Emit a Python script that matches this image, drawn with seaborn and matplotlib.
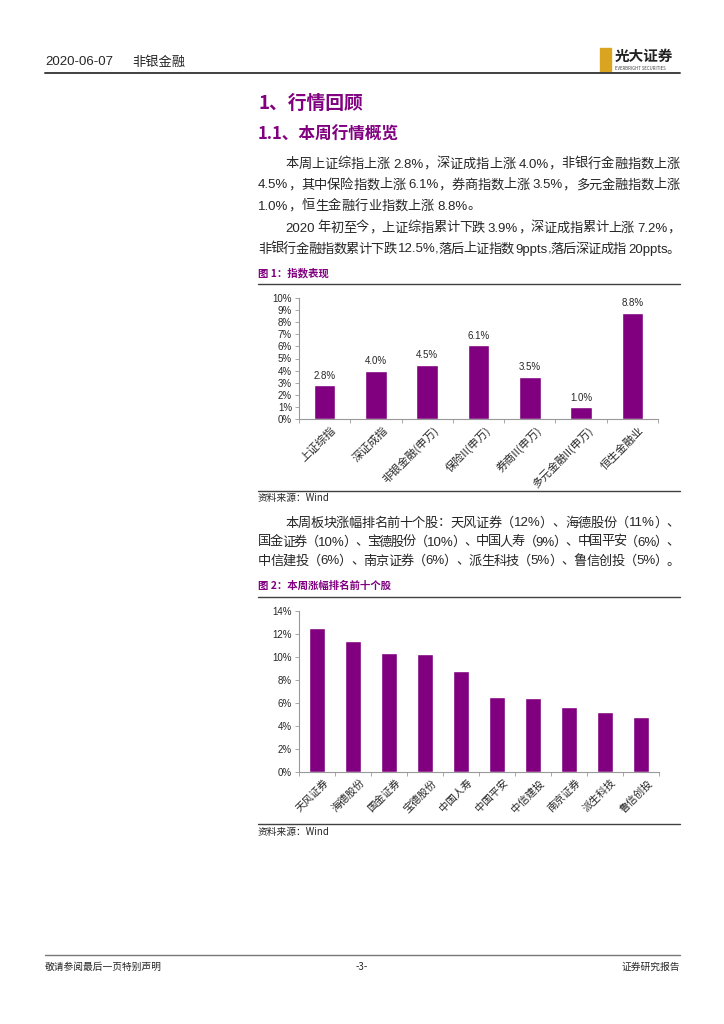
import re
import numpy as np
import pandas as pd
import matplotlib
matplotlib.use("Agg")
import matplotlib.pyplot as plt
import seaborn as sns
import matplotlib.ticker as ticker
import matplotlib.transforms as mtrans
from matplotlib.patches import Rectangle

# chart data
idx_names = ["上证综指", "深证成指", "非银金融(申万)", "保险II(申万)", "券商II(申万)", "多元金融II(申万)", "恒生金融业"]
idx_chg = [2.8, 4.0, 4.5, 6.1, 3.5, 1.0, 8.8]

stock_names = ["天风证券", "海德股份", "国金证券", "宝德股份", "中国人寿", "中国平安", "中信建投", "南京证券", "派生科技", "鲁信创投"]
stock_chg = [12.5, 11.35, 10.33, 10.3, 8.75, 6.55, 6.47, 5.63, 5.25, 4.82]

body1 = ["本周上证综指上涨 2.8%，深证成指上涨 4.0%，非银行金融指数上涨",
         "4.5%，其中保险指数上涨 6.1%，券商指数上涨 3.5%，多元金融指数上涨",
         "1.0%，恒生金融行业指数上涨 8.8%。"]
body2 = ["2020 年初至今，上证综指累计下跌 3.9%，深证成指累计上涨 7.2%，",
         "非银行金融指数累计下跌 12.5%,落后上证指数 9ppts,落后深证成指 20ppts。"]
body3 = ["本周板块涨幅排名前十个股：天风证券（12%）、海德股份（11%）、",
         "国金证券（10%）、宝德股份（10%）、中国人寿（9%）、中国平安（6%）、",
         "中信建投（6%）、南京证券（6%）、派生科技（5%）、鲁信创投（5%）。"]

PURPLE = "#800080"
W, H = 724, 1024
LATIN = ["Liberation Sans", "DejaVu Sans"]

sns.set_style("white")
plt.rcParams["font.family"] = ["Noto Sans CJK SC", "DejaVu Sans"]
plt.rcParams["axes.unicode_minus"] = False

fig = plt.figure(figsize=(W / 100, H / 100), dpi=100)
fig.patch.set_facecolor("white")
rend = fig.canvas.get_renderer()


def fx(x):
    return x / W


def fy(y):
    return 1 - y / H


def hline(y, x0, x1, lw=1.0, color="#404040"):
    fig.add_artist(plt.Line2D([fx(x0), fx(x1)], [fy(y), fy(y)], lw=lw, color=color))


def txt(x, y, s, size=9.5, **kw):
    kw.setdefault("va", "center")
    return fig.text(fx(x), fy(y), s, fontsize=size, **kw)


def jline(x0, y, s, x1=None, size=9.5):
    # draw a line token by token, spread to x1 when given (justified)
    toks = re.findall(r"[A-Za-z0-9.%]+|.", s)
    objs = []
    for t in toks:
        if re.match(r"[A-Za-z0-9.%,]", t):
            o = txt(x0, y + 4.5, t, size=size, family=LATIN, va="baseline")
        else:
            o = txt(x0, y + 4.5, t, size=size, va="baseline")
        objs.append(o)
    widths = [o.get_window_extent(rend).width if o.get_text().strip() else size * 0.35 for o in objs]
    gap = 0.0
    if x1 is not None and len(objs) > 1:
        gap = (x1 - x0 - sum(widths)) / (len(objs) - 1)
    x = x0
    for o, w in zip(objs, widths):
        o.set_x(fx(x))
        x += w + gap


def paragraph(lines, y0, step, size=9.5, last_full=True):
    for i, s in enumerate(lines):
        x0 = 285 if i == 0 else 258
        full = i < len(lines) - 1 or last_full
        jline(x0, y0 + step * i, s, 680 if full else None, size=size)


# header
txt(45, 62, "2020-06-07", size=9.5, family=LATIN)
txt(132, 62, "非银金融", size=9.5)
hline(73, 45, 680, lw=1.4)
fig.add_artist(Rectangle((fx(600), fy(71)), fx(11), 23 / H, color="#d9a520", transform=fig.transFigure))
txt(615, 56, "光大证券", size=10.5, weight="bold", color="#222222")
txt(615, 68, "EVERBRIGHT SECURITIES", size=3.1, color="#444444")

# headings
txt(258, 103, "1、行情回顾", size=13.5, weight="bold", color=PURPLE)
txt(258, 135, "1.1、本周行情概览", size=12, weight="bold", color=PURPLE)

paragraph(body1, 163, 21, last_full=False)
paragraph(body2, 227, 21)

txt(258, 273, "图 1：指数表现", size=7.5, weight="bold", color=PURPLE)
hline(284, 258, 680, lw=1.0)


def bar_chart(box, names, vals, ymax, step, xsize, labels=False):
    left, top, right, bottom = box
    ax = fig.add_axes([fx(left), fy(bottom), fx(right - left), (bottom - top) / H])
    df = pd.DataFrame({"name": names, "val": vals})
    sns.barplot(data=df, x="name", y="val", color=PURPLE, saturation=1, width=0.42, ax=ax)
    ax.set_xlim(-0.5, len(names) - 0.5)
    ax.set_ylim(0, ymax)
    ax.yaxis.set_major_locator(ticker.MultipleLocator(step))
    ax.yaxis.set_major_formatter(ticker.FuncFormatter(lambda v, p: f"{v:.0f}%"))
    ax.set_xlabel("")
    ax.set_ylabel("")
    for sp in ["top", "right"]:
        ax.spines[sp].set_visible(False)
    for sp in ["left", "bottom"]:
        ax.spines[sp].set_color("#999999")
        ax.spines[sp].set_linewidth(0.8)
    ax.tick_params(axis="y", labelsize=7, length=3, width=0.6, color="#999999", left=True, pad=2)
    ax.tick_params(axis="x", labelsize=xsize, length=0, pad=4)
    ax.xaxis.set_minor_locator(ticker.FixedLocator(np.arange(-0.5, len(names), 1)))
    ax.tick_params(axis="x", which="minor", length=3, width=0.6, color="#999999", bottom=True)
    for lab in ax.get_yticklabels():
        lab.set_family(LATIN)
    shift = mtrans.ScaledTranslation(6 / 100, 0, fig.dpi_scale_trans)
    for lab in ax.get_xticklabels():
        lab.set_rotation(45)
        lab.set_ha("right")
        lab.set_rotation_mode("anchor")
        lab.set_transform(lab.get_transform() + shift)
    if labels:
        for i, v in enumerate(vals):
            ax.text(i, v + ymax * 0.035, f"{v:.1f}%", ha="center", va="bottom", fontsize=7,
                    family=LATIN)
    return ax


bar_chart((299, 298, 658, 419), idx_names, idx_chg, 10, 1, 8, labels=True)
hline(491, 258, 680, lw=1.0)
txt(258, 498, "资料来源：Wind", size=7)

paragraph(body3, 522, 19)

txt(258, 586, "图 2：本周涨幅排名前十个股", size=7.5, weight="bold", color=PURPLE)
hline(597, 258, 680, lw=1.0)

bar_chart((299, 611, 659, 772), stock_names, stock_chg, 14, 2, 7.5)
hline(824, 258, 680, lw=1.0)
txt(258, 832, "资料来源：Wind", size=7)

# footer
hline(955, 45, 680, lw=1.0, color="#777777")
txt(45, 967, "敬请参阅最后一页特别声明", size=7)
txt(362, 967, "-3-", size=7, ha="center")
txt(680, 967, "证券研究报告", size=7, ha="right")

fig.savefig("out.png", dpi=100, facecolor="white")
